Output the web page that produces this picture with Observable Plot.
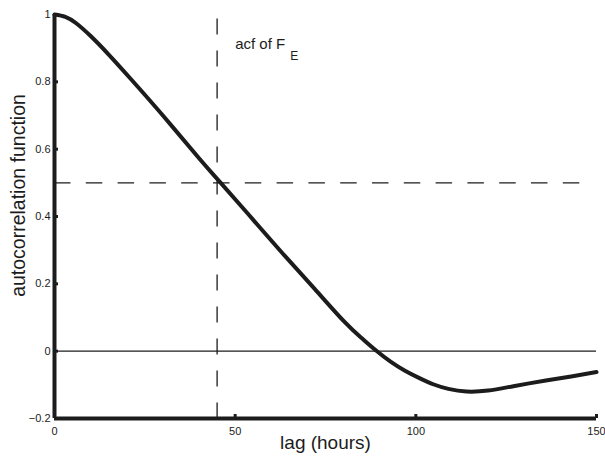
<!DOCTYPE html>
<html>
<head>
<meta charset="utf-8">
<script src="https://cdn.jsdelivr.net/npm/d3@7"></script>
<script src="https://cdn.jsdelivr.net/npm/@observablehq/plot@0.6"></script>
<style>
  html, body { margin: 0; padding: 0; background: #fff; }
  svg { font-family: "Liberation Sans", Arial, sans-serif; }
</style>
</head>
<body>
<div id="chart"></div>
<script>
const lag = [0, 3, 6, 10, 15, 21, 30, 40, 46, 55, 64, 72, 80, 85, 89, 93, 97, 101, 105, 109, 114, 120, 127, 136, 143, 150];
const acf = [1.0, 0.993, 0.974, 0.936, 0.881, 0.81, 0.7, 0.573, 0.5, 0.39, 0.28, 0.185, 0.09, 0.039, 0.002, -0.031, -0.058, -0.08, -0.099, -0.112, -0.12, -0.117, -0.104, -0.087, -0.075, -0.062];
const xTicks = [0, 50, 100, 150];
const yTicks = [-0.2, 0, 0.2, 0.4, 0.6, 0.8, 1];
const halfLag = [45];
const halfLevel = [0.5];
const xLabel = "lag (hours)";
const yLabel = "autocorrelation function";
const noteMain = "acf of F";
const noteSub = "E";
const notePos = {x: 50, y: 0.898};

const data = lag.map((l, i) => ({lag: l, acf: acf[i]}));
const ink = "#1c1c1c";
const fmt = d => String(d).replace("-", "\u2212");

const chart = Plot.plot({
  width: 605,
  height: 459,
  marginLeft: 54,
  marginRight: 9,
  marginTop: 14,
  marginBottom: 41,
  style: {fontFamily: "'Liberation Sans', Arial, sans-serif", background: "#fff"},
  x: {domain: [0, 150]},
  y: {domain: [-0.2, 1]},
  marks: [
    Plot.ruleY([0], {stroke: ink, strokeWidth: 1.3}),
    Plot.ruleY(halfLevel, {stroke: ink, strokeWidth: 1.3, strokeDasharray: "16.5,15.3", x1: 0, x2: 146}),
    Plot.ruleX(halfLag, {stroke: ink, strokeWidth: 1.3, strokeDasharray: "16,16", y1: 0.987, y2: -0.2}),
    Plot.line(data, {x: "lag", y: "acf", stroke: ink, strokeWidth: 4, curve: "natural"}),
    Plot.axisX(xTicks, {tickSize: -4, strokeWidth: 3, stroke: ink, fill: ink, fontSize: 11, tickPadding: 13, label: null, tickFormat: fmt}),
    Plot.axisY(yTicks, {tickSize: -4, strokeWidth: 3, stroke: ink, fill: ink, fontSize: 11, tickPadding: 8, label: null, tickFormat: fmt}),
    Plot.ruleX([0], {stroke: ink, strokeWidth: 4}),
    Plot.ruleY([-0.2], {stroke: ink, strokeWidth: 4}),
    Plot.text([xLabel], {frameAnchor: "bottom", dy: 30, fontSize: 19, fill: ink}),
    Plot.text([yLabel], {frameAnchor: "left", textAnchor: "middle", dx: -36, dy: -21, rotate: -90, fontSize: 19.5, fill: ink}),
    Plot.text([noteMain], {x: notePos.x, y: notePos.y, textAnchor: "start", lineAnchor: "bottom", fontSize: 15, fill: ink}),
    Plot.text([noteSub], {x: notePos.x, y: notePos.y, dx: 55, dy: 11, textAnchor: "start", lineAnchor: "bottom", fontSize: 12, fill: ink})
  ]
});
document.getElementById("chart").appendChild(chart);
</script>
</body>
</html>
